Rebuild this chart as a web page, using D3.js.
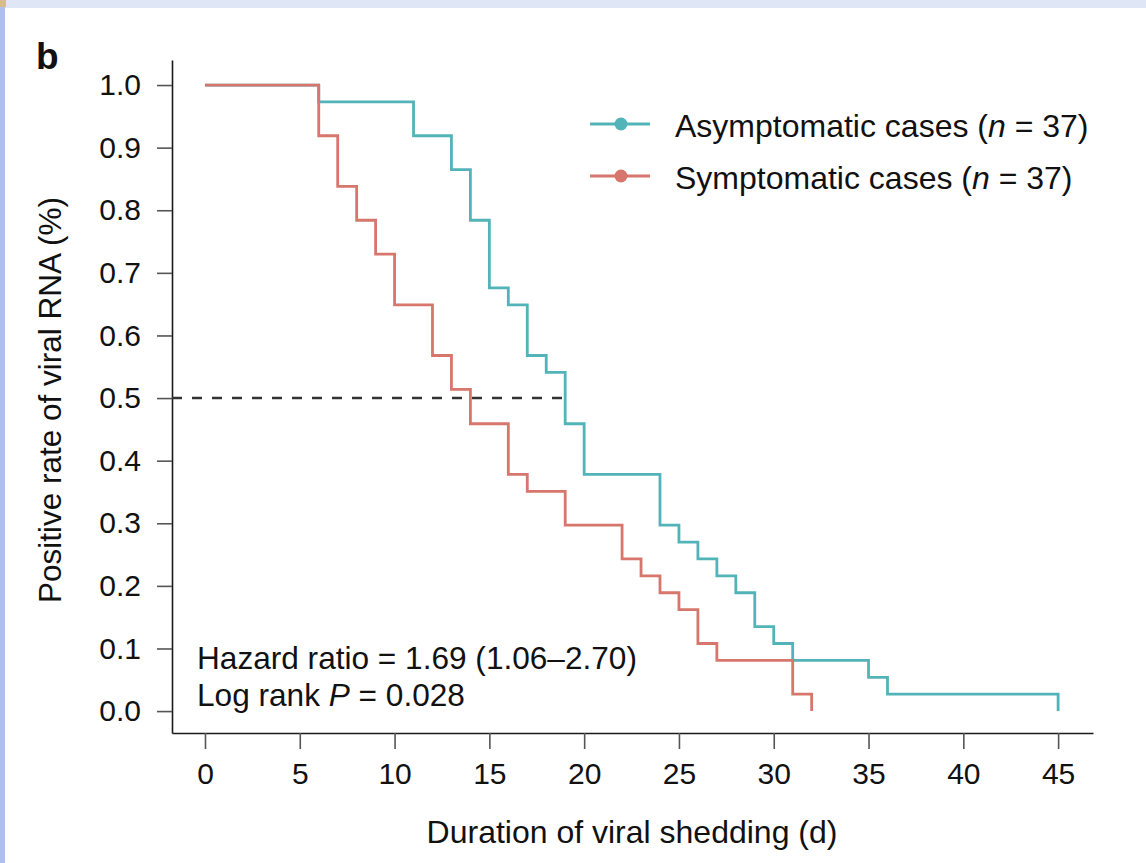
<!DOCTYPE html>
<html>
<head>
<meta charset="utf-8">
<script src="https://cdn.jsdelivr.net/npm/d3@7"></script>
<style>
  html, body { margin: 0; padding: 0; background: #fff; }
  svg { display: block; font-family: "Liberation Sans", Arial, Helvetica, sans-serif; }
</style>
</head>
<body>
<svg id="chart" width="1146" height="863"></svg>
<script>
// ---- data ----
const asymTimes = [0, 6, 11, 13, 14, 15, 16, 17, 18, 19, 20, 24, 25, 26, 27, 28, 29, 30, 31, 35, 36, 45];
const asymSurv  = [1, 0.973, 0.919, 0.865, 0.784, 0.676, 0.649, 0.568, 0.541, 0.459, 0.378, 0.297, 0.270, 0.243, 0.216, 0.189, 0.135, 0.108, 0.081, 0.054, 0.027, 0];
const symTimes  = [0, 6, 7, 8, 9, 10, 12, 13, 14, 16, 17, 19, 22, 23, 24, 25, 26, 27, 31, 32];
const symSurv   = [1, 0.919, 0.838, 0.784, 0.730, 0.649, 0.568, 0.514, 0.459, 0.378, 0.351, 0.297, 0.243, 0.216, 0.189, 0.162, 0.108, 0.081, 0.027, 0];
const xTicks = [0, 5, 10, 15, 20, 25, 30, 35, 40, 45];
const yTicks = [0, 0.1, 0.2, 0.3, 0.4, 0.5, 0.6, 0.7, 0.8, 0.9, 1.0];
const seriesNames = ["Asymptomatic cases", "Symptomatic cases"];
const seriesN = [37, 37];
const medianLevel = 0.5;
const medianDay = 19;
const hazardText = "Hazard ratio = 1.69 (1.06\u20132.70)";
const pValue = "0.028";

const colors = ["#52b4b8", "#d7766c"];

const svg = d3.select("#chart");

// page frame decorations
svg.append("rect").attr("x", 0).attr("y", 0).attr("width", 1146).attr("height", 863).attr("fill", "#ffffff");
svg.append("rect").attr("x", 0).attr("y", 0).attr("width", 1146).attr("height", 8).attr("fill", "#dfe6f5");
svg.append("rect").attr("x", 0).attr("y", 0).attr("width", 5).attr("height", 863).attr("fill", "#aec1ea");
svg.append("rect").attr("x", 0).attr("y", 0).attr("width", 6).attr("height", 7).attr("fill", "#d8bd86");

// scales
const x = d3.scaleLinear().domain([-1.74, 46.84]).range([172, 1093]);
const y = d3.scaleLinear().domain([-0.035, 1.04]).range([733, 60]);

// axes
const xAxis = svg.append("g").attr("transform", "translate(0,733)")
  .call(d3.axisBottom(x).tickValues(xTicks).tickFormat(d3.format("d")).tickSize(16).tickSizeOuter(0).tickPadding(14));
const yAxis = svg.append("g").attr("transform", "translate(172,0)")
  .call(d3.axisLeft(y).tickValues(yTicks).tickFormat(d3.format(".1f")).tickSize(15).tickSizeOuter(0).tickPadding(16));

[xAxis, yAxis].forEach(g => {
  g.select(".domain").attr("stroke", "#1a1a1a").attr("stroke-width", 1.6);
  g.selectAll(".tick line").attr("stroke", "#555").attr("stroke-width", 1.6);
  g.selectAll(".tick text").attr("fill", "#111").attr("font-size", 30)
    .attr("font-family", "'Liberation Sans', Arial, sans-serif");
});

// median dashed line
svg.append("line")
  .attr("x1", x(-1.74)).attr("x2", x(medianDay))
  .attr("y1", y(medianLevel)).attr("y2", y(medianLevel))
  .attr("stroke", "#333").attr("stroke-width", 2.6).attr("stroke-dasharray", "10,10");

// KM curves
const line = d3.line().x(d => x(d[0])).y(d => y(d[1])).curve(d3.curveStepAfter);
const series = [
  d3.zip(asymTimes, asymSurv),
  d3.zip(symTimes, symSurv)
];
series.forEach((s, i) => {
  svg.append("path").datum(s)
    .attr("d", line)
    .attr("fill", "none")
    .attr("stroke", colors[i])
    .attr("stroke-width", 2.8)
    .attr("stroke-linejoin", "miter")
    .attr("stroke-linecap", "butt");
});

// legend
const legY = [124, 176];
seriesNames.forEach((name, i) => {
  const g = svg.append("g");
  g.append("line").attr("x1", 590).attr("x2", 650).attr("y1", legY[i]).attr("y2", legY[i])
    .attr("stroke", colors[i]).attr("stroke-width", 2.8);
  g.append("circle").attr("cx", 621).attr("cy", legY[i]).attr("r", 6.5).attr("fill", colors[i]);
  const t = g.append("text").attr("x", 675).attr("y", legY[i] + 13)
    .attr("font-size", 32).attr("fill", "#111");
  t.append("tspan").text(name + " (");
  t.append("tspan").attr("font-style", "italic").text("n");
  t.append("tspan").text(" = " + seriesN[i] + ")");
});

// annotation
svg.append("text").attr("x", 197).attr("y", 669).attr("font-size", 31.6).attr("fill", "#111").text(hazardText);
const pt = svg.append("text").attr("x", 197).attr("y", 706).attr("font-size", 31.6).attr("fill", "#111");
pt.append("tspan").text("Log rank ");
pt.append("tspan").attr("font-style", "italic").text("P");
pt.append("tspan").text(" = " + pValue);

// axis titles
svg.append("text").attr("x", 632).attr("y", 843).attr("text-anchor", "middle")
  .attr("font-size", 32).attr("fill", "#111").text("Duration of viral shedding (d)");
svg.append("text").attr("transform", "translate(61,400) rotate(-90)").attr("text-anchor", "middle")
  .attr("font-size", 31.5).attr("fill", "#111").text("Positive rate of viral RNA (%)");

// panel letter
svg.append("text").attr("x", 36).attr("y", 69).attr("font-size", 37).attr("font-weight", "bold")
  .attr("fill", "#111").text("b");
</script>
</body>
</html>
